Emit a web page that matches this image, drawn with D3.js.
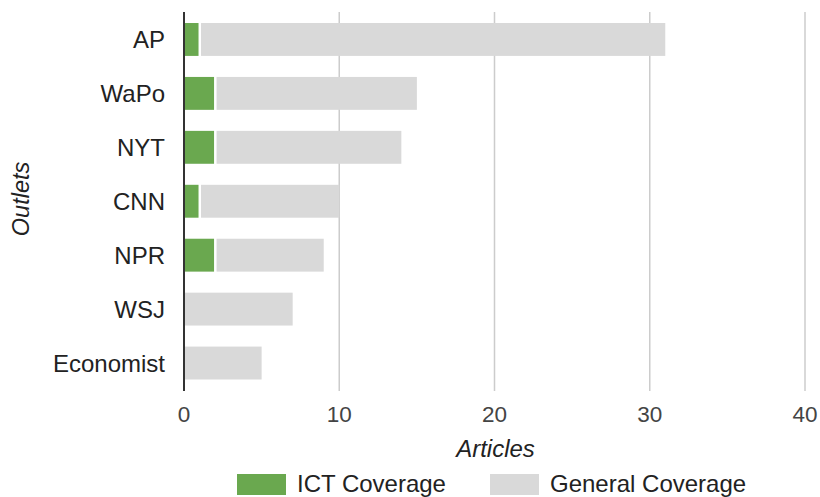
<!DOCTYPE html>
<html><head><meta charset="utf-8">
<script src="https://cdn.jsdelivr.net/npm/d3@7"></script>
<style>body{margin:0;background:#fff}svg{display:block}text{font-family:"Liberation Sans",Arial,sans-serif}</style>
</head><body>
<svg id="c" width="820" height="497"></svg>
<script>
const outlets = ["AP","WaPo","NYT","CNN","NPR","WSJ","Economist"];
const ictCoverage = [1,2,2,1,2,0,0];
const generalCoverage = [30,13,12,9,7,7,5];
const xTicks = [0,10,20,30,40];
const seriesNames = ["ICT Coverage","General Coverage"];
const colors = ["#6aa84f","#d9d9d9"];

const svg = d3.select("#c");
const x = d3.scaleLinear().domain([0,40]).range([184,805]);
const y = d3.scaleBand().domain(outlets).range([12.5,390]).paddingInner(0.39).paddingOuter(0.195);
const plotTop = 12, plotBottom = 391;

// gridlines
svg.append("g").selectAll("line").data(xTicks.slice(1)).join("line")
  .attr("x1",d=>x(d)).attr("x2",d=>x(d)).attr("y1",plotTop).attr("y2",plotBottom)
  .attr("stroke","#cccccc").attr("stroke-width",1.5);

const rows = outlets.map((o,i)=>({o, a:ictCoverage[i], b:generalCoverage[i]}));
const stack = d3.stack().keys(["a","b"])(rows);

stack.forEach((layer,li)=>{
  svg.append("g").selectAll("rect").data(layer).join("rect")
    .attr("x",d=>x(d[0]) + (li===1 && d[0]>0 ? 1.5 : 0))
    .attr("y",d=>y(d.data.o))
    .attr("width",d=>Math.max(0, x(d[1])-x(d[0]) - (li===0 ? 1 : 0) - (li===1 && d[0]>0 ? 1.5 : 0)))
    .attr("height",y.bandwidth())
    .attr("fill",colors[li]);
});

// axis line
svg.append("line").attr("x1",x(0)).attr("x2",x(0)).attr("y1",plotTop).attr("y2",plotBottom)
  .attr("stroke","#333").attr("stroke-width",2);

// x tick labels
svg.append("g").selectAll("text").data(xTicks).join("text")
  .attr("x",d=>x(d)).attr("y",422).attr("text-anchor","middle")
  .attr("font-size",22.5).attr("fill","#444").text(d=>d);

// y labels
svg.append("g").selectAll("text").data(outlets).join("text")
  .attr("x",165).attr("y",d=>y(d)+y.bandwidth()/2+8.5).attr("text-anchor","end")
  .attr("font-size",24).attr("fill","#222").text(d=>d);

// axis titles
svg.append("text").attr("x",x(20)+1).attr("y",457).attr("text-anchor","middle")
  .attr("font-size",24).attr("font-style","italic").attr("fill","#222").text("Articles");
svg.append("text").attr("transform","translate(29,199) rotate(-90)").attr("text-anchor","middle")
  .attr("font-size",23.5).attr("font-style","italic").attr("fill","#222").text("Outlets");

// legend
const legX = [237,490];
seriesNames.forEach((n,i)=>{
  svg.append("rect").attr("x",legX[i]).attr("y",474).attr("width",49).attr("height",21).attr("fill",colors[i]);
  svg.append("text").attr("x",legX[i]+60).attr("y",492).attr("font-size",24).attr("fill","#222").text(n);
});
</script>
</body></html>
